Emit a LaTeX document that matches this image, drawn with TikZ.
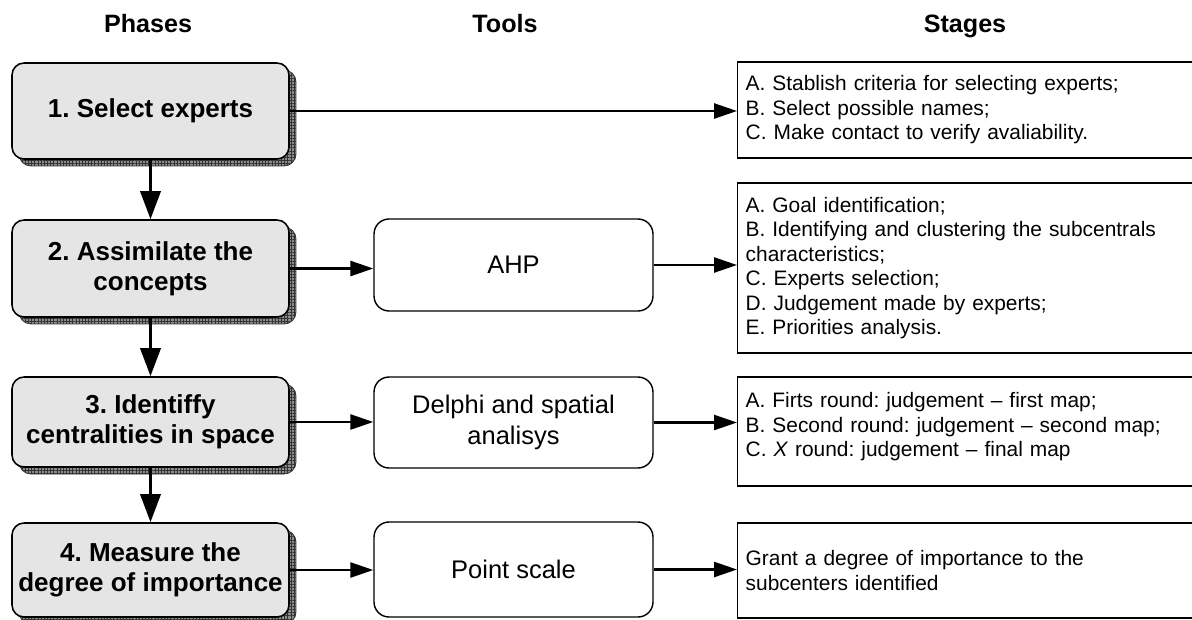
\documentclass[tikz,border=0pt]{standalone}
\usepackage{fontspec}
\setmainfont{Liberation Sans}
\frenchspacing
\usetikzlibrary{arrows.meta,patterns.meta,shadows,positioning}
\tikzset{
  phase/.style={draw=black,line width=0.9pt,fill=black!10,rounded corners=0.24cm,
    minimum width=5.54cm,align=center,inner sep=0pt,
    font=\fontsize{14.8}{17}\selectfont\bfseries,
    general shadow={shadow xshift=0.14cm,shadow yshift=-0.14cm,fill=black!45,draw=black!80,line width=0.5pt},
    general shadow={shadow xshift=0.14cm,shadow yshift=-0.14cm,pattern={Hatch[distance=1.8pt,angle=0,line width=0.45pt]},pattern color=black!80}},
  tool/.style={draw=black,line width=0.8pt,rounded corners=0.3cm,minimum width=5.58cm,
    align=center,inner sep=0pt,font=\fontsize{14.5}{18}\selectfont},
  stagebox/.style={draw=black,line width=0.8pt,text width=8.94cm,inner xsep=0.16cm,
    align=left,font=\fontsize{11.9}{13.9}\selectfont},
  head/.style={anchor=base,font=\fontsize{14.3}{17}\selectfont\bfseries},
  down/.style={line width=2pt,-{Triangle[length=0.56cm,width=0.4cm]}},
  link/.style={line width=1.4pt,-{Triangle[length=0.46cm,width=0.3cm]}}
}
\begin{document}
\begin{tikzpicture}[x=0.02cm,y=-0.02cm]
\useasboundingbox (0,0) rectangle (1192,619);
\clip (0,0) rectangle (1192,619);
% column heads
\node[head] (hphase) at (148,32) {Phases};
\node[head] (htool) at (505,32) {Tools};
\node[head] (hstage) at (965,32) {Stages};
%
% phases
\node[phase,minimum height=1.92cm] (p1) at (150.5,111) {1. Select experts};
\node[phase,minimum height=1.94cm] (p2) at (150.5,268.5) {2. Assimilate the\\concepts};
\node[phase,minimum height=1.8cm] (p3) at (150.5,422) {3. Identiffy\\centralities in space};
\node[phase,minimum height=1.88cm] (p4) at (150.5,570) {4. Measure the\\degree of importance};
%
% tools
\node[tool,minimum height=1.84cm] (t2) at (513.5,265) {AHP};
\node[tool,minimum height=1.82cm] (t3) at (513.5,422.5) {Delphi and spatial\\analisys};
\node[tool,minimum height=1.9cm] (t4) at (513.5,569.5) {Point scale};
%
% stages
\node[stagebox,anchor=west,minimum height=1.92cm] (s1) at (737,110)
  {A. Stablish criteria for selecting experts;\\B. Select possible names;\\C. Make contact to verify avaliability.};
\node[stagebox,anchor=west,minimum height=3.4cm] (s2) at (737,268)
  {A. Goal identification;\\B. Identifying and clustering the subcentrals\\characteristics;\\C. Experts selection;\\D. Judgement made by experts;\\E. Priorities analysis.};
\node[stagebox,anchor=west,minimum height=2.18cm] (s3) at (737,431.5)
  {A. Firts round: judgement -- first map;\\B. Second round: judgement -- second map;\\C. \textit{X} round: judgement -- final map\\[-6pt]\mbox{}};
\node[stagebox,anchor=west,minimum height=1.9cm] (s4) at (737,570.5)
  {Grant a degree of importance to the\\subcenters identified};
%
% connectors
\foreach \a/\b in {p1/p2,p2/p3,p3/p4}{\draw[down] (\a.south) -- (\b.north);}
\draw[link] (p1.east) -- (p1.east -| s1.west);
\foreach \i in {2,3,4}{
  \draw[link] (p\i.east) -- (p\i.east -| t\i.west);
  \draw[link] (t\i.east) -- (t\i.east -| s\i.west);
}
\end{tikzpicture}
\end{document}
